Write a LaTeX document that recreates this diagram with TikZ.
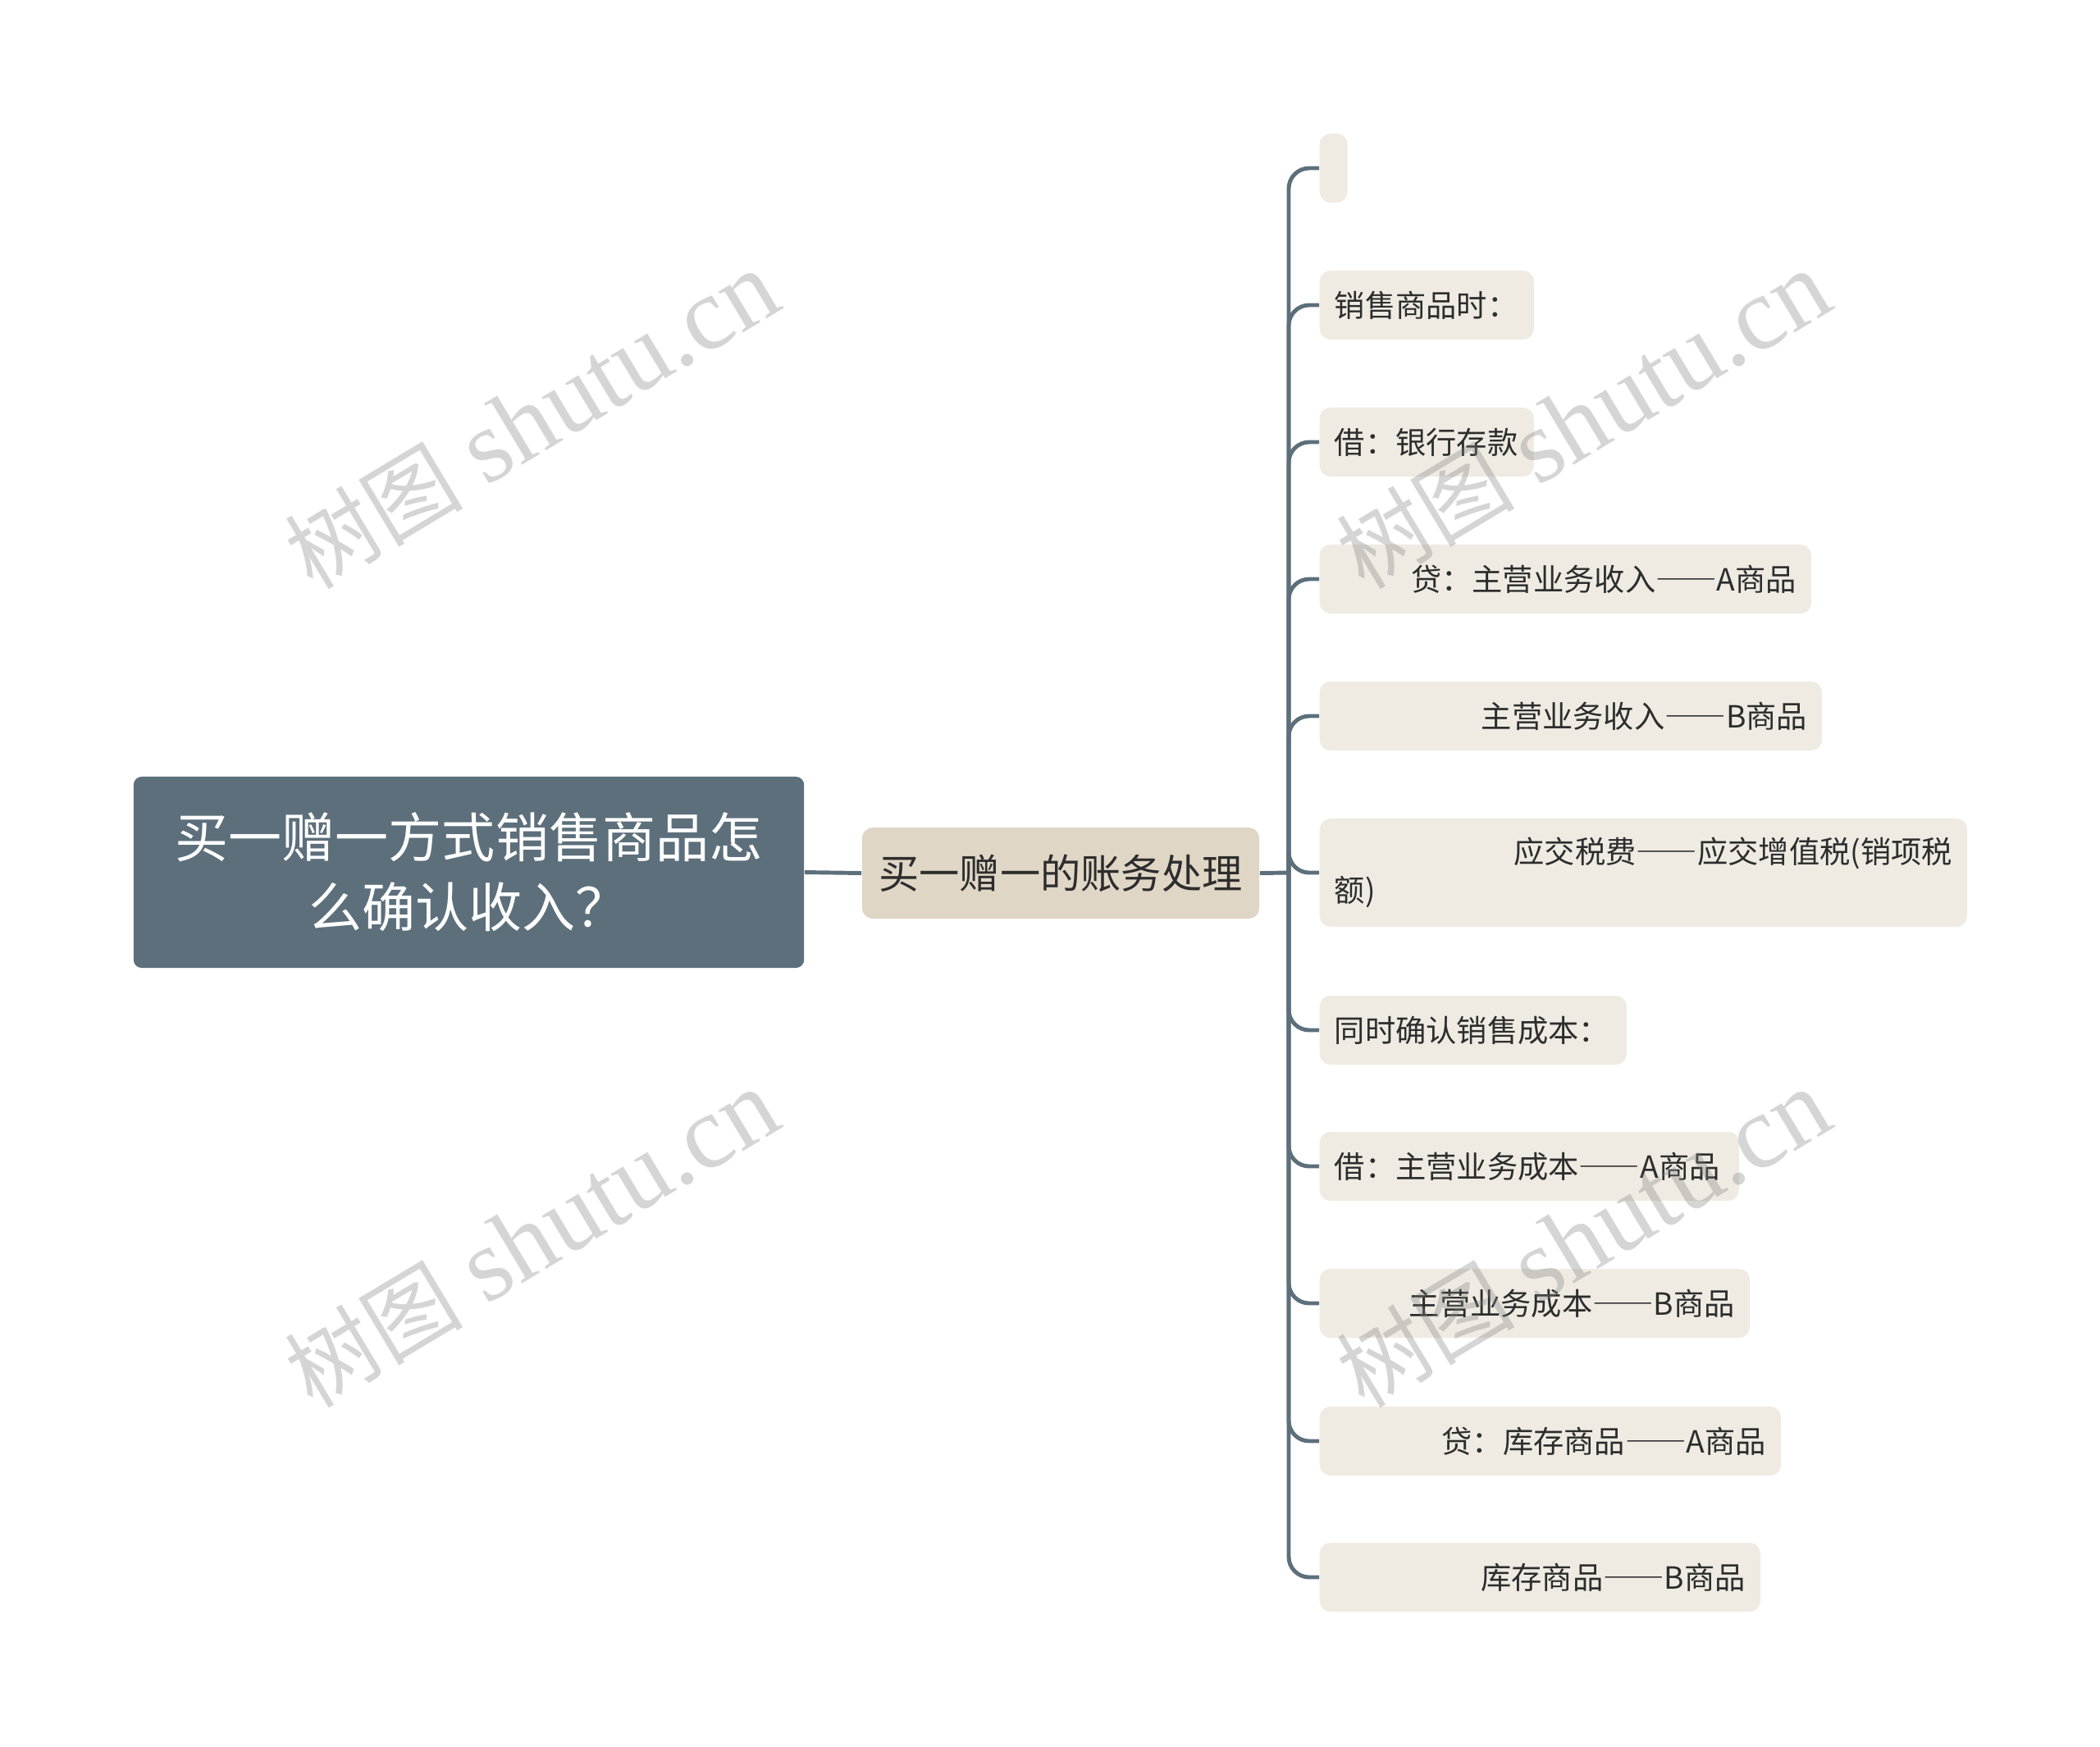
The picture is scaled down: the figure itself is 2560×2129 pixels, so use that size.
\documentclass[tikz,border=0pt]{standalone}
\usepackage{fontspec}
\usepackage{xcolor}
\usepackage{tikz}
\setmainfont{Noto Sans CJK SC}
\newfontfamily\markfont{Liberation Serif}
\newcommand{\longdash}{{\addfontfeature{CharacterWidth=Full}——}}
\definecolor{slate}{RGB}{92,111,123}
\definecolor{sand}{RGB}{224,214,198}
\definecolor{paper}{RGB}{239,235,227}
\definecolor{ink}{RGB}{45,45,45}
\tikzset{
    rootbox/.style={fill=slate, rounded corners=0.1cm, text=white, align=center,
        minimum width=8.17cm, minimum height=2.33cm, text width=7.4cm,
        font=\fontsize{18.5}{24.2}\selectfont},
    subbox/.style={fill=sand, rounded corners=0.13cm, text=ink,
        minimum width=4.84cm, minimum height=1.11cm,
        font=\fontsize{14}{17}\selectfont},
    leafbox/.style={fill=paper, rounded corners=0.13cm, text=ink, anchor=west,
        align=left, inner xsep=0.18cm, inner ysep=0pt, minimum height=0.84cm,
        font=\fontsize{10.6}{13.4}\selectfont},
    branch/.style={draw=slate, line width=1.4pt, rounded corners=0.25cm},
    watermark/.style={text=gray, opacity=0.33, rotate=31, font=\fontsize{36}{40}\selectfont}
}

\begin{document}
\begin{tikzpicture}[x=0.01cm, y=-0.01cm]
    \useasboundingbox (0,0) rectangle (2560,2129);
    % root and first level
    \node[rootbox] (root) at (571.5,1063.5) {买一赠一方式销售商品怎\\么确认收入？};
    \node[subbox] (sub) at (1293,1064.5) {买一赠一的账务处理};
    \coordinate (trunk) at (1571,1064);
    \draw[branch] (root.east) -- (sub.west);
    \draw[branch] (sub.east) -- (trunk);
    % leaves
    \node[leafbox, minimum width=0.34cm, inner xsep=0pt] (l1) at (1608,205) {};
    \foreach \n/\y/\w/\txt in {2/372/2.25/{销售商品时：}, 3/539/2.25/{借：银行存款},
        4/706/5.63/{\hfill 贷：主营业务收入\longdash A商品}, 5/873/5.76/{\hfill 主营业务收入\longdash B商品},
        7/1256/3.38/{同时确认销售成本：}, 8/1422/4.75/{借：主营业务成本\longdash A商品},
        9/1589/4.88/{\hfill 主营业务成本\longdash B商品}, 10/1757/5.26/{\hfill 贷：库存商品\longdash A商品},
        11/1923/5.01/{\hfill 库存商品\longdash B商品}}
        \node[leafbox, text width=\w cm] (l\n) at (1608,\y) {\txt};
    \node[leafbox, text width=7.53cm, minimum height=1.32cm] (l6) at (1608,1064)
        {\hfill 应交税费\longdash 应交增值税(销项税\\额)};
    \foreach \n in {1,...,11}
        \draw[branch] (trunk) |- (l\n.west);
    % watermarks
    \foreach \x/\y [count=\k] in {648/512, 1930/512, 648/1510, 1930/1510}
        \node[watermark] (mark\k) at (\x,\y) {{\fontsize{31}{40}\selectfont 树图} {\markfont shutu.cn}};
\end{tikzpicture}
\end{document}
